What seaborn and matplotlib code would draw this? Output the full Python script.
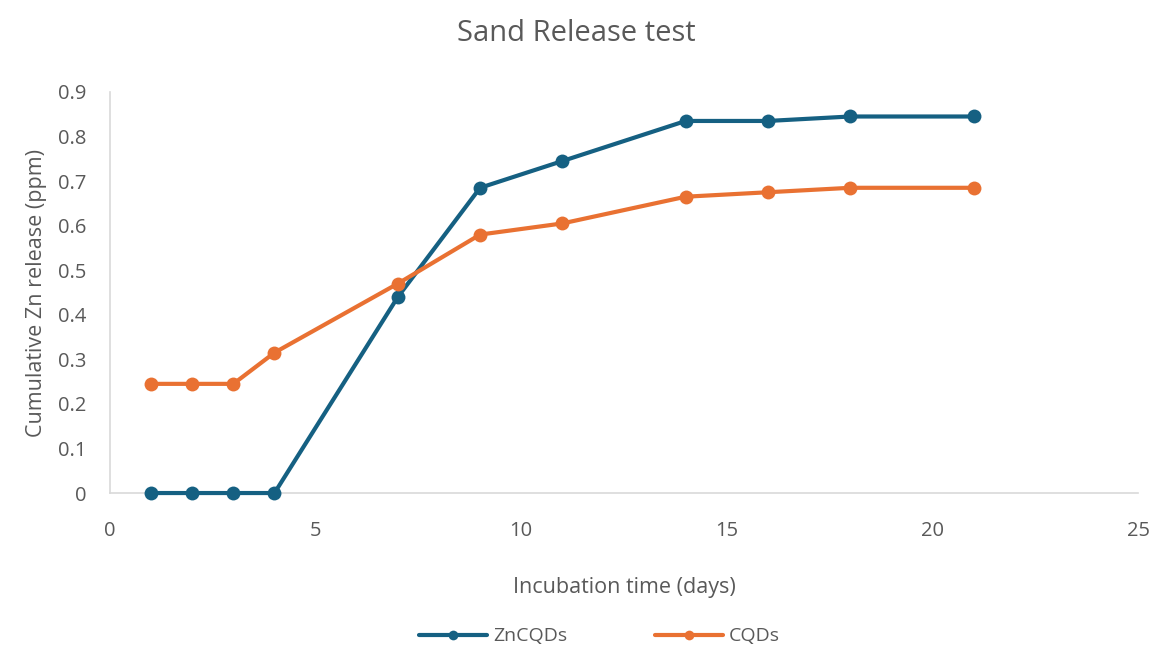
import matplotlib
matplotlib.use("Agg")
import matplotlib.pyplot as plt
import seaborn as sns
import pandas as pd

# Incubation days and cumulative Zn release (ppm)
days = [1, 2, 3, 4, 7, 9, 11, 14, 16, 18, 21]
zncqds = [0, 0, 0, 0, 0.44, 0.685, 0.745, 0.835, 0.835, 0.845, 0.845]
cqds = [0.245, 0.245, 0.245, 0.315, 0.47, 0.58, 0.605, 0.665, 0.675, 0.685, 0.685]
series_names = ["ZnCQDs", "CQDs"]
x_ticks = [0, 5, 10, 15, 20, 25]
y_ticks = [0, 0.1, 0.2, 0.3, 0.4, 0.5, 0.6, 0.7, 0.8, 0.9]
y_tick_labels = ["0", "0.1", "0.2", "0.3", "0.4", "0.5", "0.6", "0.7", "0.8", "0.9"]

df = pd.DataFrame({
    "days": days * 2,
    "release": zncqds + cqds,
    "series": [series_names[0]] * len(days) + [series_names[1]] * len(days),
})

sns.set_theme(style="white")
plt.rcParams["font.family"] = ["Open Sans", "DejaVu Sans"]
text_color = "#595959"
palette = {"ZnCQDs": "#156082", "CQDs": "#E97132"}

fig = plt.figure(figsize=(11.53, 6.46), dpi=100)
ax = fig.add_axes([0.0954, 0.2368, 0.8916, 0.6208])

sns.lineplot(data=df, x="days", y="release", hue="series", palette=palette,
             marker="o", markersize=10, markeredgewidth=0, linewidth=3,
             ax=ax, legend=False)
# keep the series above the axis line and let the zero-level markers show fully
for line in ax.lines:
    line.set_clip_on(False)
    line.set_zorder(5)

ax.set_xlim(0, 25)
ax.set_ylim(0, 0.9)
ax.set_xticks(x_ticks)
ax.set_yticks(y_ticks)
ax.set_yticklabels(y_tick_labels)
ax.tick_params(axis="both", colors=text_color, labelsize=14.5, length=0)
ax.tick_params(axis="y", pad=17)
ax.tick_params(axis="x", pad=20)

for side in ["top", "right"]:
    ax.spines[side].set_visible(False)
ax.spines["left"].set_color("#D9D9D9")
ax.spines["bottom"].set_color("#D9D9D9")
ax.spines["left"].set_linewidth(1.2)
ax.spines["bottom"].set_linewidth(1.2)

ax.set_xlabel("Incubation time (days)", fontsize=15.5, color=text_color, labelpad=26)
ax.set_ylabel("Cumulative Zn release (ppm)", fontsize=15.5, color=text_color, labelpad=8)
fig.suptitle("Sand Release test", fontsize=21, color=text_color, y=0.97)

handles = [plt.Line2D([0], [0], color=palette[n], linewidth=3, marker="o",
                      markersize=7, markeredgewidth=0) for n in series_names]
fig.legend(handles, series_names, loc="center", bbox_to_anchor=(0.52, 0.015),
           ncol=2, frameon=False, fontsize=14, labelcolor=text_color,
           handlelength=3.5, handletextpad=0.3, columnspacing=4.5)

fig.savefig("out.png", dpi=100)
